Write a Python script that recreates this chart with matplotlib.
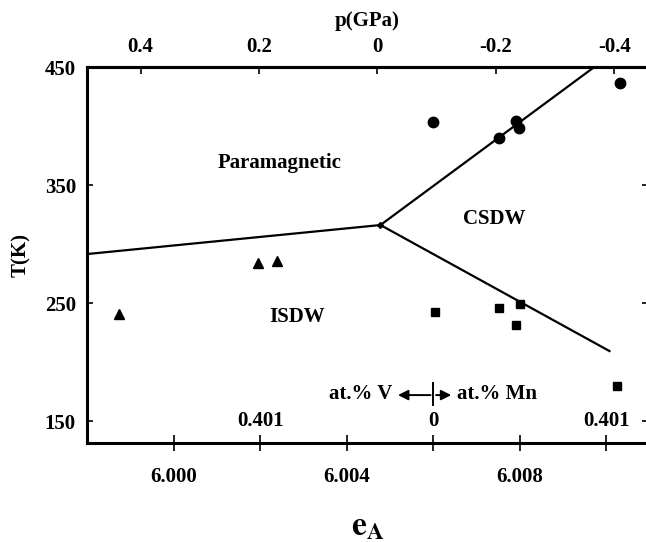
import numpy as np
import matplotlib
matplotlib.use('Agg')
import matplotlib.pyplot as plt

# data (e_A, T in K)
tri_e = [5.99873, 6.00196, 6.00238]
tri_T = [240.7, 283.9, 285.6]

circ_e = [6.00600, 6.00751, 6.00790, 6.00799, 6.01032]
circ_T = [403.4, 389.8, 404.2, 398.3, 436.4]

sq_e = [6.00603, 6.00751, 6.00801, 6.00792, 6.01025]
sq_T = [242.4, 245.8, 249.2, 231.4, 179.7]

# phase boundaries, all meeting at the triple point
triple = (6.00478, 316.1)
bound_left = [(5.99800, 291.5), triple]
bound_up = [triple, (6.00972, 450.0)]
bound_down = [triple, (6.01007, 209.3)]

# top axis: pressure
p_ticks = [0.4, 0.2, 0.0, -0.2, -0.4]
p_labels = ['0.4', '0.2', '0', '-0.2', '-0.4']
e_at_p0 = 6.00471
dp_de = -73.1

# concentration labels inside the axes
conc_e = [6.002, 6.006, 6.010]
conc_labels = ['0.401', '0', '0.401']

phase_names = ['Paramagnetic', 'ISDW', 'CSDW']
phase_pos = [(6.00245, 368.6), (6.00286, 238.1), (6.00741, 321.2)]

plt.rcParams['font.family'] = ['Liberation Serif', 'DejaVu Serif']
plt.rcParams['font.weight'] = 'bold'
plt.rcParams['mathtext.fontset'] = 'stix'
FS = 15


def e2p(e):
    return dp_de*(np.asarray(e) - e_at_p0)


def p2e(p):
    return np.asarray(p)/dp_de + e_at_p0


def line(ax, pts):
    x = [a[0] for a in pts]
    y = [a[1] for a in pts]
    ax.plot(x, y, color='black', lw=1.6)


def main():
    fig = plt.figure(figsize=(6.46, 5.42), dpi=100)
    ax = fig.add_axes([87/646, 99/542, 561/646, 376/542])

    ax.set_xlim(5.998, 6.01096)
    ax.set_ylim(131.4, 450)

    line(ax, bound_left)
    line(ax, bound_up)
    line(ax, bound_down)
    ax.plot([triple[0]], [triple[1]], marker='D', ms=3, color='black')

    ax.plot(tri_e, tri_T, '^', color='black', ms=6.5, ls='none')
    ax.plot(circ_e, circ_T, 'o', color='black', ms=7.5, ls='none')
    ax.plot(sq_e, sq_T, 's', color='black', ms=6, ls='none')

    for name, pos in zip(phase_names, phase_pos):
        ax.text(pos[0], pos[1], name, ha='center', va='center', fontsize=FS, fontweight='bold')

    for e, lab in zip(conc_e, conc_labels):
        ax.text(e, 150, lab, ha='center', va='center', fontsize=FS, fontweight='bold')

    # at.% V <-|-> at.% Mn
    ax.annotate('', xy=(6.00512, 172), xytext=(6.0060, 172),
                arrowprops=dict(arrowstyle='-|>', color='black', lw=1.4, mutation_scale=15))
    ax.annotate('', xy=(6.00648, 172), xytext=(6.0060, 172),
                arrowprops=dict(arrowstyle='-|>', color='black', lw=1.4, mutation_scale=15))
    ax.plot([6.0060, 6.0060], [164, 182], color='black', lw=1.4)
    ax.text(6.00505, 173, 'at.% V', ha='right', va='center', fontsize=FS, fontweight='bold')
    ax.text(6.00655, 173, 'at.% Mn', ha='left', va='center', fontsize=FS, fontweight='bold')

    ax.set_xticks([6.000, 6.004, 6.008])
    ax.set_xticklabels(['6.000', '6.004', '6.008'])
    ax.set_xticks([6.002, 6.006, 6.010], minor=True)
    ax.tick_params(axis='x', which='both', direction='inout', length=12, width=1.2,
                   labelsize=FS, pad=11)
    ax.set_yticks([150, 250, 350, 450])
    ax.tick_params(axis='y', direction='in', length=4, width=1.2, labelsize=FS,
                   right=True, pad=8)
    for lab in ax.get_xticklabels() + ax.get_yticklabels():
        lab.set_fontweight('bold')

    for s in ax.spines.values():
        s.set_linewidth(2.2)

    ax.set_ylabel('T(K)', fontsize=FS, fontweight='bold', labelpad=10)
    ax.set_xlabel(r'$\mathbf{e_A}$', fontsize=24, labelpad=18)

    top = ax.secondary_xaxis('top', functions=(e2p, p2e))
    top.set_xticks(p_ticks)
    top.set_xticklabels(p_labels)
    top.tick_params(direction='in', length=5, width=1.2, labelsize=FS, pad=7)
    for lab in top.get_xticklabels():
        lab.set_fontweight('bold')
    top.spines['top'].set_linewidth(2.2)
    top.set_xlabel('p(GPa)', fontsize=FS, fontweight='bold', labelpad=8)

    fig.savefig('out.png', dpi=100)


if __name__ == '__main__':
    main()
